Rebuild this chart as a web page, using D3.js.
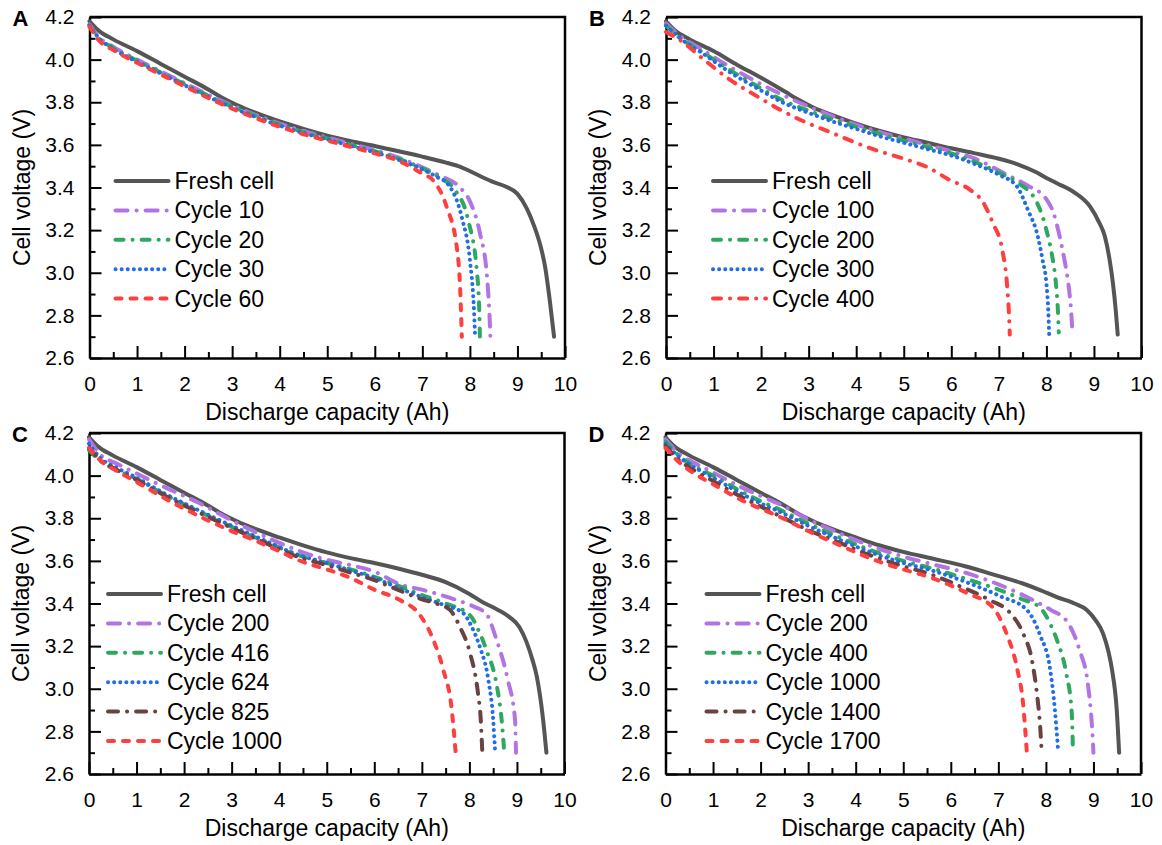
<!DOCTYPE html>
<html>
<head>
<meta charset="utf-8">
<script src="https://cdn.jsdelivr.net/npm/d3@7"></script>
<style>
  body { margin: 0; background: #fff; }
  svg { font-family: "Liberation Sans", Arial, sans-serif; }
  .axis path, .axis line { stroke: #000; }
  .axis text { font-size: 21px; fill: #000; }
  .curve { fill: none; stroke-linecap: round; stroke-linejoin: round; }
</style>
</head>
<body>
<div id="chart"></div>
<script>
// ---- data ----
const capTicks = [0, 1, 2, 3, 4, 5, 6, 7, 8, 9, 10];
const voltTicks = [2.6, 2.8, 3.0, 3.2, 3.4, 3.6, 3.8, 4.0, 4.2];

// panel A
const aLabels = ["Fresh cell", "Cycle 10", "Cycle 20", "Cycle 30", "Cycle 60"];
const aFresh = [[0,4.18],[0.2,4.135],[0.5,4.095],[1.0,4.04],[1.5,3.98],[2.0,3.92],[2.5,3.86],[2.8,3.82],[3.1,3.787],[3.5,3.75],[4.0,3.71],[4.5,3.675],[5.0,3.643],[5.5,3.617],[6.0,3.595],[6.5,3.57],[7.0,3.545],[7.5,3.517],[7.8,3.497],[8.2,3.455],[8.5,3.425],[8.75,3.405],[9.0,3.37],[9.2,3.30],[9.35,3.22],[9.48,3.13],[9.58,3.03],[9.68,2.87],[9.77,2.70]];
const aCyc10 = [[0,4.165],[0.2,4.105],[0.5,4.06],[1.0,4.0],[1.5,3.945],[2.0,3.89],[2.5,3.835],[3.0,3.785],[3.5,3.74],[4.0,3.70],[4.5,3.665],[5.0,3.635],[5.5,3.605],[6.0,3.575],[6.5,3.54],[7.0,3.495],[7.37,3.455],[7.79,3.40],[8.0,3.335],[8.21,3.187],[8.36,2.98],[8.42,2.76],[8.43,2.70]];
const aCyc20 = [[0,4.16],[0.2,4.10],[0.5,4.055],[1.0,3.995],[1.5,3.94],[2.0,3.885],[2.5,3.83],[3.0,3.78],[3.5,3.735],[4.0,3.695],[4.5,3.66],[5.0,3.63],[5.5,3.60],[6.0,3.57],[6.5,3.535],[7.0,3.49],[7.37,3.445],[7.68,3.39],[7.96,3.25],[8.15,3.0],[8.2,2.8],[8.21,2.70]];
const aCyc30 = [[0,4.16],[0.2,4.10],[0.5,4.05],[1.0,3.99],[1.5,3.935],[2.0,3.88],[2.5,3.825],[3.0,3.775],[3.5,3.73],[4.0,3.69],[4.5,3.655],[5.0,3.625],[5.5,3.595],[6.0,3.565],[6.5,3.53],[7.0,3.485],[7.3,3.45],[7.54,3.415],[7.83,3.26],[8.0,3.06],[8.08,2.85],[8.11,2.70]];
const aCyc60 = [[0,4.155],[0.2,4.09],[0.5,4.045],[1.0,3.985],[1.5,3.93],[2.0,3.875],[2.5,3.82],[3.0,3.77],[3.5,3.725],[4.0,3.685],[4.5,3.65],[5.0,3.62],[5.5,3.59],[6.0,3.56],[6.5,3.525],[7.0,3.465],[7.22,3.435],[7.51,3.31],[7.73,3.11],[7.8,2.90],[7.83,2.70]];

// panel B
const bLabels = ["Fresh cell", "Cycle 100", "Cycle 200", "Cycle 300", "Cycle 400"];
const bFresh = [[0,4.18],[0.2,4.135],[0.5,4.095],[1.0,4.04],[1.5,3.975],[2.0,3.915],[2.5,3.85],[2.8,3.81],[3.1,3.775],[3.5,3.74],[4.0,3.70],[4.5,3.665],[5.0,3.635],[5.5,3.61],[5.97,3.585],[6.5,3.56],[7.0,3.535],[7.38,3.51],[7.8,3.47],[8.0,3.445],[8.22,3.42],[8.6,3.375],[8.92,3.31],[9.1,3.24],[9.23,3.17],[9.33,3.06],[9.4,2.95],[9.46,2.82],[9.5,2.71]];
const bCyc100 = [[0,4.17],[0.3,4.11],[0.7,4.055],[1.35,3.965],[2.0,3.885],[2.4,3.84],[3.0,3.78],[3.5,3.735],[4.0,3.695],[4.5,3.66],[5.0,3.63],[5.5,3.60],[6.0,3.57],[6.5,3.535],[7.17,3.46],[7.6,3.41],[8.0,3.345],[8.15,3.28],[8.28,3.17],[8.38,3.06],[8.46,2.95],[8.52,2.82],[8.55,2.71]];
const bCyc200 = [[0,4.16],[0.3,4.10],[0.7,4.045],[1.35,3.95],[2.0,3.865],[2.4,3.815],[3.0,3.76],[3.5,3.72],[4.0,3.685],[4.5,3.65],[5.0,3.62],[5.5,3.59],[6.0,3.56],[6.5,3.52],[7.0,3.47],[7.38,3.425],[7.8,3.33],[8.0,3.20],[8.12,3.08],[8.2,2.95],[8.24,2.83],[8.26,2.72]];
const bCyc300 = [[0,4.16],[0.3,4.10],[0.7,4.04],[1.35,3.94],[2.0,3.855],[2.4,3.805],[3.0,3.75],[3.5,3.71],[4.0,3.675],[4.5,3.64],[5.0,3.61],[5.5,3.58],[6.0,3.55],[6.5,3.51],[7.0,3.46],[7.38,3.405],[7.61,3.295],[7.82,3.17],[7.92,3.06],[8.0,2.95],[8.04,2.82],[8.06,2.70]];
const bCyc400 = [[0,4.13],[0.3,4.09],[0.8,4.0],[1.35,3.905],[1.9,3.83],[2.4,3.765],[2.9,3.71],[3.45,3.66],[4.35,3.58],[5.0,3.535],[5.5,3.495],[5.97,3.435],[6.39,3.39],[6.67,3.33],[6.88,3.23],[7.07,3.11],[7.17,2.95],[7.21,2.82],[7.23,2.71]];

// panel C
const cLabels = ["Fresh cell", "Cycle 200", "Cycle 416", "Cycle 624", "Cycle 825", "Cycle 1000"];
const cFresh = [[0,4.18],[0.2,4.135],[0.5,4.095],[1.0,4.04],[1.5,3.98],[2.0,3.92],[2.5,3.86],[2.8,3.82],[3.1,3.787],[3.5,3.75],[4.0,3.71],[4.5,3.673],[5.0,3.64],[5.5,3.613],[6.0,3.59],[6.54,3.562],[7.0,3.535],[7.5,3.5],[8.0,3.445],[8.29,3.405],[8.6,3.37],[8.85,3.335],[9.05,3.29],[9.2,3.22],[9.32,3.14],[9.42,3.055],[9.55,2.855],[9.62,2.70]];
const cCyc200 = [[0,4.17],[0.23,4.10],[0.6,4.055],[1.0,4.01],[1.6,3.945],[2.33,3.87],[3.0,3.79],[3.6,3.725],[4.44,3.645],[5.0,3.605],[5.5,3.58],[6.0,3.55],[6.54,3.49],[7.0,3.465],[7.4,3.44],[7.73,3.416],[8.1,3.385],[8.36,3.35],[8.57,3.23],[8.81,3.04],[8.96,2.855],[8.98,2.70]];
const cCyc416 = [[0,4.12],[0.23,4.07],[0.6,4.025],[1.0,3.985],[1.6,3.91],[2.33,3.83],[3.0,3.76],[3.6,3.70],[4.44,3.625],[5.0,3.59],[5.5,3.56],[6.0,3.525],[6.54,3.48],[7.0,3.44],[7.5,3.40],[8.01,3.346],[8.2,3.27],[8.36,3.18],[8.58,3.01],[8.68,2.85],[8.73,2.71]];
const cCyc624 = [[0,4.15],[0.23,4.085],[0.6,4.035],[1.0,3.99],[1.6,3.915],[2.33,3.835],[3.0,3.765],[3.6,3.705],[4.44,3.625],[5.0,3.59],[5.5,3.555],[6.0,3.52],[6.54,3.47],[7.0,3.43],[7.5,3.39],[7.87,3.355],[8.05,3.29],[8.22,3.196],[8.4,3.04],[8.5,2.855],[8.54,2.71]];
const cCyc825 = [[0,4.13],[0.23,4.075],[0.6,4.025],[1.0,3.98],[1.6,3.905],[2.33,3.825],[3.0,3.755],[3.6,3.695],[4.44,3.615],[5.0,3.58],[5.5,3.545],[6.0,3.51],[6.54,3.46],[7.0,3.42],[7.3,3.40],[7.59,3.37],[7.8,3.29],[8.01,3.17],[8.18,2.98],[8.24,2.85],[8.27,2.71]];
const cCyc1000 = [[0,4.13],[0.23,4.073],[0.6,4.02],[1.0,3.97],[1.5,3.905],[2.0,3.845],[2.5,3.79],[3.0,3.74],[3.5,3.695],[4.0,3.645],[4.5,3.595],[5.0,3.56],[5.5,3.52],[6.0,3.465],[6.54,3.416],[6.96,3.346],[7.24,3.23],[7.45,3.09],[7.63,2.90],[7.71,2.703]];

// panel D
const dLabels = ["Fresh cell", "Cycle 200", "Cycle 400", "Cycle 1000", "Cycle 1400", "Cycle 1700"];
const dFresh = [[0,4.18],[0.2,4.135],[0.5,4.095],[1.0,4.04],[1.5,3.98],[2.0,3.92],[2.5,3.86],[2.8,3.82],[3.1,3.787],[3.5,3.75],[4.0,3.71],[4.51,3.672],[5.0,3.642],[5.63,3.61],[6.3,3.575],[7.03,3.527],[7.5,3.495],[7.88,3.463],[8.23,3.43],[8.6,3.40],[8.86,3.37],[9.05,3.32],[9.2,3.26],[9.32,3.17],[9.39,3.09],[9.49,2.90],[9.54,2.70]];
const dCyc200 = [[0,4.17],[0.3,4.10],[0.6,4.06],[1.0,4.015],[1.6,3.945],[2.0,3.905],[2.41,3.865],[3.0,3.795],[3.6,3.735],[4.51,3.655],[5.0,3.62],[5.6,3.585],[6.33,3.543],[7.0,3.49],[7.73,3.416],[8.1,3.37],[8.43,3.32],[8.6,3.25],[8.71,3.18],[8.89,3.01],[8.99,2.745],[9.0,2.70]];
const dCyc400 = [[0,4.16],[0.3,4.09],[0.6,4.045],[1.0,4.0],[1.6,3.925],[2.0,3.88],[2.41,3.84],[3.0,3.775],[3.6,3.715],[4.51,3.635],[5.0,3.60],[5.6,3.565],[6.33,3.515],[7.03,3.463],[7.5,3.42],[7.88,3.38],[8.1,3.30],[8.23,3.23],[8.43,3.07],[8.54,2.90],[8.57,2.70]];
const dCyc1000 = [[0,4.15],[0.3,4.085],[0.6,4.04],[1.0,3.99],[1.6,3.915],[2.0,3.87],[2.41,3.83],[3.0,3.765],[3.6,3.705],[4.51,3.625],[5.0,3.59],[5.6,3.555],[6.33,3.50],[7.03,3.435],[7.6,3.37],[7.88,3.25],[8.09,3.09],[8.19,2.90],[8.26,2.70]];
const dCyc1400 = [[0,4.14],[0.3,4.07],[0.6,4.025],[1.0,3.975],[1.6,3.90],[2.0,3.855],[2.41,3.81],[3.0,3.745],[3.6,3.69],[4.51,3.61],[5.0,3.575],[5.6,3.535],[6.2,3.48],[6.82,3.416],[7.25,3.355],[7.52,3.26],[7.71,3.13],[7.81,2.98],[7.88,2.82],[7.91,2.71]];
const dCyc1700 = [[0,4.13],[0.3,4.06],[0.6,4.01],[1.0,3.96],[1.6,3.885],[2.0,3.845],[2.41,3.806],[3.0,3.74],[3.6,3.68],[4.51,3.595],[5.0,3.56],[5.6,3.52],[6.33,3.45],[6.89,3.38],[7.17,3.26],[7.39,3.10],[7.52,2.93],[7.6,2.70]];

// ---- line styles ----
const lineStyles = {
  fresh:   { color: "#555555", dash: null,             width: 4 },
  purple:  { color: "#b374e3", dash: "12,9,0.1,9",      width: 4 },
  green:   { color: "#2ea85f", dash: "8,9,0.1,9",       width: 4 },
  blue:    { color: "#1f6ee6", dash: "0.1,6",           width: 4 },
  red:     { color: "#ff3f3f", dash: "6,9",             width: 4 },
  redDot:  { color: "#ff3f3f", dash: "8,9,0.1,9",       width: 4 },
  brown:   { color: "#6b4242", dash: "10,9,0.1,9",      width: 4 }
};

const W = 475.5, H = 341;

function DischargePanel(svg, opts) {
  this.svg = svg;
  this.letter = opts.letter;
  this.left = opts.left;
  this.top = opts.top;
  this.series = opts.series;
  this.labels = opts.labels;
  this.styles = opts.styles;
  this.legendX = opts.legendX;
  this.legendY = opts.legendY;
}

DischargePanel.prototype = {
  constructor: DischargePanel,

  init: function() {
    let self = this;
    let g = self.svg.append("g")
      .attr("transform", "translate(" + self.left + "," + self.top + ")");

    let x = d3.scaleLinear().domain([0, 10]).range([0, W]),
        y = d3.scaleLinear().domain([2.6, 4.2]).range([H, 0]);

    // minor ticks first, then major axes with labels
    g.append("g").attr("class", "axis")
      .attr("transform", "translate(0," + H + ")")
      .call(d3.axisBottom(x).tickValues(d3.range(0.5, 10, 1)).tickSize(-6).tickSizeOuter(0).tickFormat(""))
      .call(a => a.select(".domain").remove())
      .selectAll("line").attr("stroke-width", 2);
    g.append("g").attr("class", "axis")
      .call(d3.axisLeft(y).tickValues(d3.range(2.7, 4.2, 0.2)).tickSize(-6).tickSizeOuter(0).tickFormat(""))
      .call(a => a.select(".domain").remove())
      .selectAll("line").attr("stroke-width", 2);

    let xAxis = g.append("g").attr("class", "axis")
      .attr("transform", "translate(0," + H + ")")
      .call(d3.axisBottom(x).tickValues(capTicks).tickSize(-12).tickSizeOuter(0).tickPadding(18)
        .tickFormat(d3.format("d")));
    xAxis.selectAll("line").attr("stroke-width", 2);
    xAxis.select(".domain").attr("stroke-width", 2.5);
    xAxis.selectAll("text").attr("font-family", null);

    let yAxis = g.append("g").attr("class", "axis")
      .call(d3.axisLeft(y).tickValues(voltTicks).tickSize(-12).tickSizeOuter(0).tickPadding(15)
        .tickFormat(d3.format(".1f")));
    yAxis.selectAll("line").attr("stroke-width", 2);
    yAxis.select(".domain").attr("stroke-width", 2.5);
    yAxis.selectAll("text").attr("font-family", null);

    // top and right edges of the frame
    g.append("path")
      .attr("d", "M0," + y(4.2) + "H" + x(10) + "V" + y(2.6))
      .attr("fill", "none").attr("stroke", "#000").attr("stroke-width", 2.5);

    let line = d3.line()
      .curve(d3.curveMonotoneX)
      .x(d => x(d[0]))
      .y(d => y(d[1]));

    self.series.forEach(function(s, i) {
      let st = lineStyles[self.styles[i]];
      g.append("path")
        .attr("class", "curve")
        .attr("d", line(s))
        .attr("stroke", st.color)
        .attr("stroke-width", st.width)
        .attr("stroke-dasharray", st.dash);
    });

    // legend
    let leg = g.append("g").attr("transform", "translate(" + self.legendX + "," + self.legendY + ")");
    self.labels.forEach(function(lab, i) {
      let st = lineStyles[self.styles[i]];
      let row = leg.append("g").attr("transform", "translate(0," + (i * 29.4) + ")");
      row.append("line")
        .attr("class", "curve")
        .attr("x1", 2).attr("x2", 55)
        .attr("stroke", st.color)
        .attr("stroke-width", st.width)
        .attr("stroke-dasharray", st.dash);
      row.append("text")
        .attr("x", 61).attr("dy", "0.35em")
        .attr("font-size", 23)
        .text(lab);
    });

    // titles
    g.append("text")
      .attr("x", W / 2).attr("y", H + 62)
      .attr("text-anchor", "middle")
      .attr("font-size", 23)
      .text("Discharge capacity (Ah)");
    g.append("text")
      .attr("transform", "translate(-68," + (H / 2) + ") rotate(-90)")
      .attr("text-anchor", "middle")
      .attr("dy", "0.35em")
      .attr("font-size", 23)
      .text("Cell voltage (V)");
    g.append("text")
      .attr("x", -69).attr("y", 1)
      .attr("text-anchor", "middle")
      .attr("dy", "0.35em")
      .attr("font-size", 22)
      .attr("font-weight", "bold")
      .text(self.letter);
  }
};

let svg = d3.select("#chart").append("svg")
  .attr("width", 1162).attr("height", 845);

new DischargePanel(svg, {
  letter: "A", left: 89.5, top: 17, legendX: 24, legendY: 164,
  series: [aFresh, aCyc10, aCyc20, aCyc30, aCyc60], labels: aLabels,
  styles: ["fresh", "purple", "green", "blue", "red"]
}).init();

new DischargePanel(svg, {
  letter: "B", left: 666, top: 17, legendX: 45, legendY: 164,
  series: [bFresh, bCyc100, bCyc200, bCyc300, bCyc400], labels: bLabels,
  styles: ["fresh", "purple", "green", "blue", "redDot"]
}).init();

new DischargePanel(svg, {
  letter: "C", left: 89, top: 433, legendX: 17, legendY: 161,
  series: [cFresh, cCyc200, cCyc416, cCyc624, cCyc825, cCyc1000], labels: cLabels,
  styles: ["fresh", "purple", "green", "blue", "brown", "red"]
}).init();

new DischargePanel(svg, {
  letter: "D", left: 665.5, top: 433, legendX: 39, legendY: 161,
  series: [dFresh, dCyc200, dCyc400, dCyc1000, dCyc1400, dCyc1700], labels: dLabels,
  styles: ["fresh", "purple", "green", "blue", "brown", "red"]
}).init();
</script>
</body>
</html>
